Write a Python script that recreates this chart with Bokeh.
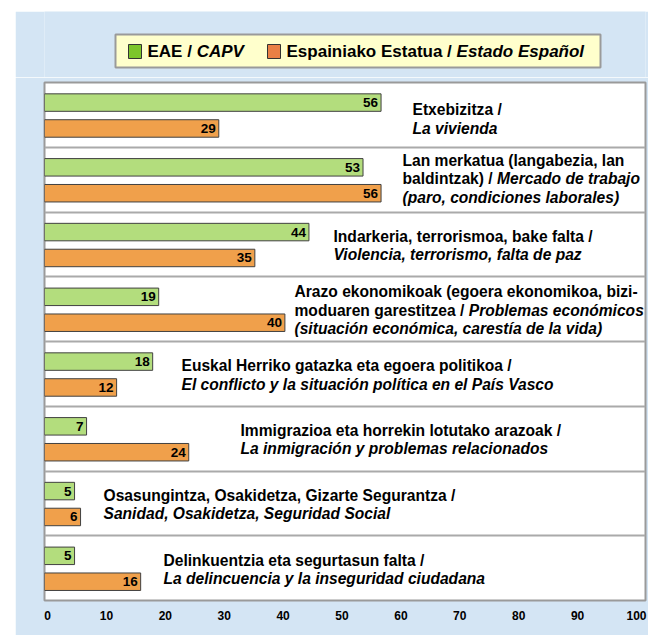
from bokeh.plotting import figure
from bokeh.models import Range1d, LinearAxis, FixedTicker, ColumnDataSource, Spacer
from bokeh.layouts import column, row
from bokeh.embed import file_html
from bokeh.resources import INLINE
from bokeh.core.properties import value

# ---------------- data ----------------
categories = ["Etxebizitza", "Lan merkatua", "Indarkeria", "Arazo ekonomikoak",
              "Euskal Herriko gatazka", "Immigrazioa", "Osasungintza", "Delinkuentzia"]
eae = [56, 53, 44, 19, 18, 7, 5, 5]          # EAE / CAPV
spain = [29, 56, 35, 40, 12, 24, 6, 16]      # Espainiako Estatua / Estado Español
x_ticks = [0, 10, 20, 30, 40, 50, 60, 70, 80, 90, 100]
series_eu = ["EAE / ", "Espainiako Estatua / "]
series_es = ["CAPV", "Estado Español"]

# category labels: each line is a list of (text, italic) segments
label_lines = [
    [[("Etxebizitza /", False)], [("La vivienda", True)]],
    [[("Lan merkatua (langabezia, lan", False)],
     [("baldintzak) / ", False), ("Mercado de trabajo", True)],
     [("(paro, condiciones laborales)", True)]],
    [[("Indarkeria, terrorismoa, bake falta /", False)],
     [("Violencia, terrorismo, falta de paz", True)]],
    [[("Arazo ekonomikoak (egoera ekonomikoa, bizi-", False)],
     [("moduaren garestitzea / ", False), ("Problemas económicos", True)],
     [("(situación económica, carestía de la vida)", True)]],
    [[("Euskal Herriko gatazka eta egoera politikoa /", False)],
     [("El conflicto y la situación política en el País Vasco", True)]],
    [[("Immigrazioa eta horrekin lotutako arazoak /", False)],
     [("La inmigración y problemas relacionados", True)]],
    [[("Osasungintza, Osakidetza, Gizarte Segurantza /", False)],
     [("Sanidad, Osakidetza, Seguridad Social", True)]],
    [[("Delinkuentzia eta segurtasun falta /", False)],
     [("La delincuencia y la inseguridad ciudadana", True)]],
]

# ---------------- layout / style ----------------
label_left_px = [368, 358, 289, 250, 137, 196, 59, 119]
label_center = [0.56, 0.49, 0.52, 0.52, 0.515, 0.515, 0.515, 0.52]
LINE_PX = 18.5
FONT = value("Liberation Sans")
LBL_SIZE = 15.6
LEG_SIZE = 17
BG = "#d4e5f4"
GREEN_BAR = "#b3dd7d"
ORANGE_BAR = "#f0a04b"
GREEN_KEY = "#7cc52b"
ORANGE_KEY = "#e97f45"
GREEN_OFF, ORANGE_OFF, BAR_H = 0.31, 0.71, 0.27
X0, Y0 = 15, 11             # blue panel origin on the page
W = 648 - X0
BL, BR = 29, 3              # frame spans page x 44..645
LEG_BOT = 77                # legend strip: page y 11..77

W_BOLD = {' ': 278, '(': 333, ')': 333, ',': 278, '-': 333, '.': 278, '/': 278,
          'A': 722, 'B': 722, 'C': 722, 'D': 722, 'E': 667, 'F': 611, 'G': 778,
          'H': 722, 'I': 278, 'L': 611, 'M': 833, 'O': 778, 'P': 667, 'S': 667,
          'V': 667, 'a': 556, 'b': 611, 'c': 556, 'd': 611, 'e': 556, 'f': 333,
          'g': 611, 'h': 611, 'i': 278, 'j': 278, 'k': 556, 'l': 278, 'm': 889,
          'n': 611, 'o': 611, 'p': 611, 'q': 611, 'r': 389, 's': 556, 't': 333,
          'u': 611, 'v': 556, 'w': 778, 'x': 556, 'y': 556, 'z': 500,
          'á': 556, 'é': 556, 'í': 278, 'ó': 611, 'ñ': 611}


def text_w(s, size):
    return sum(W_BOLD.get(c, 556) for c in s) / 1000.0 * size


# ---------------- legend strip (page-pixel space) ----------------
leg = figure(width=W, height=LEG_BOT - Y0, output_backend="svg",
             toolbar_location=None,
             x_range=Range1d(X0 + BL, X0 + W - BR), y_range=Range1d(LEG_BOT, Y0),
             x_axis_location=None, y_axis_location=None,
             min_border_left=BL, min_border_right=BR, min_border_top=0,
             min_border_bottom=0)
leg.border_fill_color = BG
leg.background_fill_color = BG
leg.outline_line_color = None
leg.grid.visible = False
leg.quad(left=[115], right=[600], top=[34], bottom=[67], fill_color="#ffffcc",
         line_color="#9a9a9a", line_width=2)
key_left = [128, 267]
key_colors = [GREEN_KEY, ORANGE_KEY]
tx, ty, tt, ts = [], [], [], []
for kl, eu, es in zip(key_left, series_eu, series_es):
    x0 = kl + 19
    tx += [x0, x0 + text_w(eu, LEG_SIZE)]
    ty += [51, 51]
    tt += [eu.rstrip(), es]
    ts += ["bold", "bold italic"]
leg.quad(left=key_left, right=[k + 13 for k in key_left], top=[44, 44],
         bottom=[58, 58], fill_color=key_colors, line_color="#333333", line_width=1)
leg.text(x=tx, y=ty, text=tt, text_font_style=ts, text_font=FONT,
         text_font_size=f"{LEG_SIZE}px", text_baseline="middle", text_align="left",
         text_color="black")

# ---------------- main chart ----------------
p = figure(width=W, height=635 - LEG_BOT, output_backend="svg", toolbar_location=None,
           x_range=Range1d(0, 100), y_range=Range1d(len(categories), 0),
           x_axis_location=None, y_axis_location=None,
           min_border_left=BL, min_border_right=BR, min_border_top=5,
           min_border_bottom=35)
p.border_fill_color = BG
p.background_fill_color = "white"
p.outline_line_color = "#9a9a9a"
p.outline_line_width = 2
p.xgrid.visible = False
p.ygrid.ticker = FixedTicker(ticks=list(range(1, len(categories))))
p.ygrid.grid_line_color = "#aaaaaa"
p.ygrid.grid_line_width = 2

# tick-label axis (labels placed as in the reference)
p.extra_x_ranges = {"ticks": Range1d(-0.51, 101.53)}
ax = LinearAxis(x_range_name="ticks", ticker=FixedTicker(ticks=x_ticks))
ax.axis_line_color = None
ax.major_tick_line_color = None
ax.minor_tick_line_color = None
ax.major_tick_out = 0
ax.major_tick_in = 0
ax.major_label_standoff = 10
ax.major_label_text_font = "Liberation Sans"
ax.major_label_text_font_style = "bold"
ax.major_label_text_font_size = "12px"
ax.major_label_text_color = "black"
p.add_layout(ax, "below")

# bars
idx = list(range(len(categories)))
src = ColumnDataSource(dict(
    yg=[i + GREEN_OFF for i in idx], yo=[i + ORANGE_OFF for i in idx],
    eae=eae, spain=spain,
    teae=[str(v) for v in eae], tspain=[str(v) for v in spain]))
p.hbar(y="yg", left=0, right="eae", height=BAR_H, source=src,
       fill_color=GREEN_BAR, line_color="#404040", line_width=1)
p.hbar(y="yo", left=0, right="spain", height=BAR_H, source=src,
       fill_color=ORANGE_BAR, line_color="#404040", line_width=1)
for ycol, xcol, tcol in (("yg", "eae", "teae"), ("yo", "spain", "tspain")):
    p.text(x=xcol, y=ycol, text=tcol, source=src, text_align="right",
           text_baseline="middle", x_offset=-3, text_font=FONT,
           text_font_style="bold", text_font_size="13.5px", text_color="black")

# category labels
lx, ly, lyo, lt, ls = [], [], [], [], []
for i, lines in enumerate(label_lines):
    n = len(lines)
    for k, segs in enumerate(lines):
        off = label_left_px[i]
        for txt, ital in segs:
            lx.append(off)
            ly.append(i + label_center[i])
            lyo.append((k - (n - 1) / 2.0) * LINE_PX)
            lt.append(txt.rstrip())
            ls.append("bold italic" if ital else "bold")
            off += text_w(txt, LBL_SIZE)
lsrc = ColumnDataSource(dict(x=[0] * len(lx), xo=lx, y=ly, yo=lyo, text=lt, style=ls))
p.text(x="x", y="y", x_offset="xo", y_offset="yo", text="text", source=lsrc,
       text_font_style="style", text_font=FONT, text_font_size=f"{LBL_SIZE}px",
       text_align="left", text_baseline="middle", text_color="black")

page = row(Spacer(width=X0, height=10),
           column(Spacer(width=W, height=Y0), leg, p))
open("out.html", "w").write(file_html(page, INLINE))
